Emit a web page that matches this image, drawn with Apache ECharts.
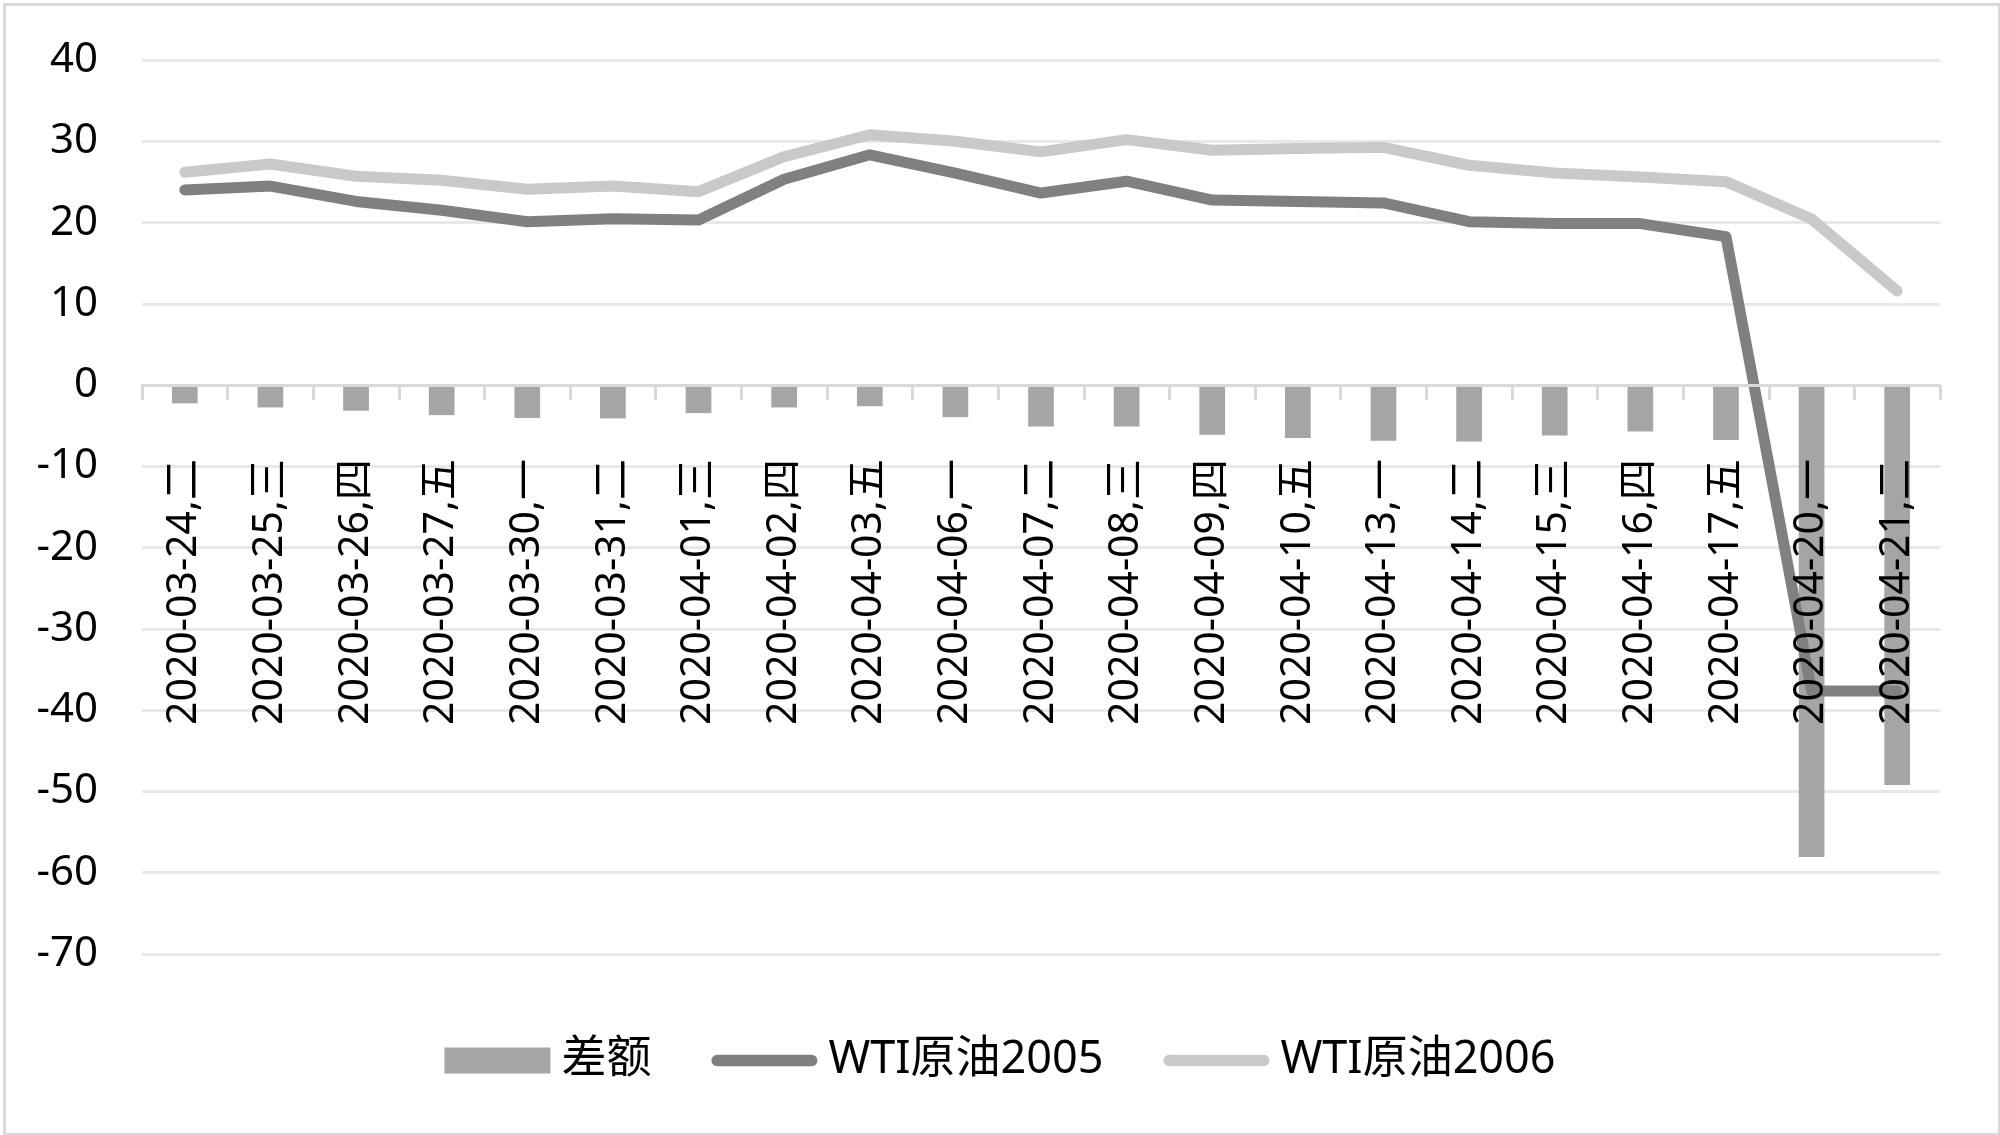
<!DOCTYPE html>
<html>
<head>
<meta charset="utf-8">
<script src="https://cdn.jsdelivr.net/npm/echarts@6/dist/echarts.min.js"></script>
<style>
html,body{margin:0;padding:0;background:#fff;}
#c{width:2000px;height:1135px;}
</style>
</head>
<body>
<div id="c"></div>
<script>
const categories = [
  "2020-03-24,二","2020-03-25,三","2020-03-26,四","2020-03-27,五","2020-03-30,一",
  "2020-03-31,二","2020-04-01,三","2020-04-02,四","2020-04-03,五","2020-04-06,一",
  "2020-04-07,二","2020-04-08,三","2020-04-09,四","2020-04-10,五","2020-04-13,一",
  "2020-04-14,二","2020-04-15,三","2020-04-16,四","2020-04-17,五","2020-04-20,一",
  "2020-04-21,二"
];
const diffValues = [-2.25,-2.75,-3.15,-3.7,-4.05,-4.1,-3.45,-2.75,-2.6,-3.95,-5.1,-5.1,-6.1,-6.5,-6.85,-6.95,-6.2,-5.7,-6.76,-58.06,-49.2];
const wti2005 = [24.01,24.49,22.60,21.51,20.09,20.48,20.31,25.32,28.34,26.08,23.63,25.09,22.76,22.6,22.41,20.11,19.87,19.87,18.27,-37.63,-37.63];
const wti2006 = [26.2,27.2,25.7,25.2,24.1,24.5,23.8,28.1,30.8,30.0,28.7,30.2,28.9,29.1,29.25,27.05,26.1,25.6,25.03,20.43,11.57];
const seriesNames = ["差额","WTI原油2005","WTI原油2006"];

const chart = echarts.init(document.getElementById('c'), null, {renderer:'canvas'});
const latinFont = '"Noto Sans", "Noto Sans CJK SC", sans-serif';
const lineIcon = 'path://M6,0 L104,0 A6,6 0 0 1 104,12 L6,12 A6,6 0 0 1 6,0 Z';
chart.setOption({
  backgroundColor: '#ffffff',
  animation: false,
  graphic: [{
    type: 'rect', left: 2, top: 2, z: -10, silent: true,
    shape: {width: 1995, height: 1130},
    style: {fill: 'none', stroke: '#d9d9d9', lineWidth: 3}
  }],
  grid: {left: 142, right: 60, top: 60, bottom: 181, containLabel: false, outerBoundsMode: 'none'},
  legend: {
    data: [
      {name: seriesNames[0], icon: 'rect'},
      {name: seriesNames[1], icon: lineIcon},
      {name: seriesNames[2], icon: lineIcon}
    ],
    left: 'center',
    top: 1033,
    itemWidth: 106,
    itemHeight: 26,
    itemGap: 60,
    textStyle: {fontFamily: latinFont, fontSize: 45, color: '#000', padding: [0,0,0,6]}
  },
  xAxis: {
    type: 'category',
    data: categories,
    boundaryGap: true,
    z: 10,
    axisLine: {onZero: true, lineStyle: {color: '#d9d9d9', width: 3}},
    axisTick: {show: true, length: 15, lineStyle: {color: '#d9d9d9', width: 3}},
    axisLabel: {
      rotate: 90, margin: -495, interval: 0,
      fontFamily: latinFont, fontSize: 41, color: '#000'
    },
    splitLine: {show: false}
  },
  yAxis: {
    type: 'value',
    min: -70, max: 40, interval: 10,
    axisLine: {show: false},
    axisTick: {show: false},
    axisLabel: {margin: 44, fontFamily: latinFont, fontSize: 42, color: '#000'},
    splitLine: {lineStyle: {color: '#e8e8e8', width: 3}}
  },
  series: [
    {
      name: seriesNames[0], type: 'bar', data: diffValues,
      barWidth: '30%',
      itemStyle: {color: '#a5a5a5'},
      z: 2
    },
    {
      name: seriesNames[1], type: 'line', data: wti2005,
      symbol: 'none', smooth: false,
      lineStyle: {color: '#808080', width: 11, cap: 'round', join: 'round'},
      itemStyle: {color: '#808080'},
      z: 4
    },
    {
      name: seriesNames[2], type: 'line', data: wti2006,
      symbol: 'none', smooth: false,
      lineStyle: {color: '#c9c9c9', width: 11, cap: 'round', join: 'round'},
      itemStyle: {color: '#c9c9c9'},
      z: 3
    }
  ]
});
</script>
</body>
</html>
